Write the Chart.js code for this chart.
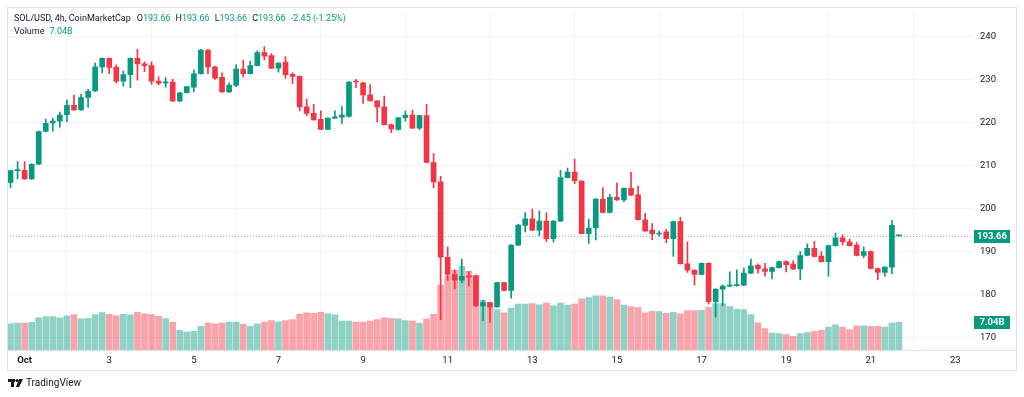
<!DOCTYPE html>
<html>
<head>
<meta charset="utf-8">
<script src="https://cdn.jsdelivr.net/npm/chart.js@4.4.1/dist/chart.umd.min.js"></script>
<style>
html, body { margin: 0; padding: 0; background: #fff; }
#wrap { width: 1024px; height: 397px; }
</style>
</head>
<body>
<div id="wrap"><canvas id="chart" width="1024" height="397"></canvas></div>
<script>
// SOL/USD 4h candles, first one is Sep 30 16:00
const openP = [
  206.1,208.8,208.9,206.9,210.3,217.9,219.9,220.3,221.8,224.0,
  222.9,225.8,227.3,232.9,234.9,232.8,229.6,231.1,234.9,233.6,
  233.2,229.6,229.2,229.4,225.0,226.9,228.2,231.3,236.8,232.9,
  230.5,227.1,228.6,232.4,231.3,233.2,236.2,235.5,232.6,234.0,
  231.2,230.7,223.6,222.1,220.7,218.4,221.0,221.2,221.4,229.5,
  229.2,226.4,225.0,223.6,219.5,218.4,221.1,221.7,218.7,221.6,
  210.7,206.2,188.7,184.7,183.4,184.4,184.4,177.4,178.2,177.2,
  182.8,181.0,191.5,196.1,197.6,195.0,197.1,193.0,197.1,207.2,
  208.5,206.4,194.2,195.5,202.2,199.1,202.6,202.0,204.7,203.2,
  197.4,195.0,194.1,194.6,193.0,197.0,187.2,185.7,184.7,187.3,
  178.4,181.3,182.0,182.1,182.2,185.0,186.8,186.0,185.4,186.3,
  187.7,187.1,186.0,189.1,190.8,189.0,187.7,191.4,193.2,192.3,
  191.5,189.1,190.0,186.1,185.2,186.4,193.66
];
const highP = [
  208.9,210.9,210.9,210.4,218.0,220.8,221.0,222.4,225.2,226.3,
  226.5,227.7,233.8,235.0,235.0,233.4,231.9,235.0,237.0,234.1,
  234.1,230.6,230.4,230.0,227.0,228.4,232.2,237.0,236.9,233.0,
  231.5,229.2,233.4,234.5,234.3,236.6,237.6,236.0,233.9,235.3,
  231.5,230.8,225.4,224.2,222.7,221.1,222.7,223.7,229.5,230.0,
  229.3,228.8,225.1,226.1,219.6,221.2,222.7,222.9,221.7,224.2,
  212.8,207.5,191.1,185.8,188.3,185.4,184.6,178.7,178.3,182.9,
  182.9,191.6,196.4,199.1,199.9,199.5,199.0,197.2,208.9,209.4,
  211.5,206.5,197.5,202.3,204.8,203.3,206.0,204.8,208.4,205.2,
  198.9,196.5,194.8,195.2,197.1,198.0,192.3,185.8,187.4,187.4,
  181.4,182.3,185.3,185.8,186.2,188.3,187.2,187.3,186.4,187.8,
  187.9,187.9,190.0,191.8,192.4,190.0,191.5,194.3,193.9,192.9,
  192.1,191.1,190.2,186.2,186.5,197.2,193.66
];
const lowP = [
  204.8,206.9,206.8,206.8,210.2,217.8,218.0,218.9,220.1,222.8,
  222.8,223.5,227.2,231.5,231.3,229.2,228.4,228.1,229.8,231.8,
  228.8,228.7,228.2,224.8,224.8,226.8,227.1,231.2,231.3,230.0,
  227.0,227.0,228.3,230.5,231.2,233.1,234.5,232.5,231.7,230.3,
  229.0,222.7,221.6,220.5,218.3,218.3,220.9,219.8,221.2,228.1,
  224.4,225.0,220.1,219.4,217.6,218.2,220.3,218.6,218.3,210.6,
  204.8,174.2,183.3,181.3,182.8,182.0,177.3,174.0,173.6,177.1,
  180.9,179.2,191.4,194.6,194.9,193.7,192.3,192.2,197.0,207.1,
  205.8,194.1,191.9,192.7,199.0,199.0,201.9,201.6,203.0,197.3,
  194.7,192.8,193.6,192.1,188.9,187.1,185.2,182.2,184.6,177.8,
  174.8,177.4,181.9,182.0,182.1,184.9,185.0,184.3,183.7,186.2,
  185.3,185.8,183.5,189.0,188.8,187.6,184.3,191.3,191.5,191.3,
  189.0,188.6,186.0,183.5,184.3,184.9,193.66
];
const closeP = [
  208.8,208.9,206.9,210.3,217.9,219.8,220.3,221.7,224.0,222.9,
  225.8,227.2,232.9,234.9,232.8,229.6,231.1,234.9,233.6,233.2,
  229.6,229.1,229.3,225.0,226.9,228.3,231.3,236.8,232.9,230.3,
  227.1,228.7,232.4,231.3,233.2,236.2,235.4,232.6,233.8,231.1,
  230.7,223.6,222.1,220.6,218.4,221.0,221.3,221.7,229.4,229.4,
  226.4,225.0,223.6,219.5,218.5,221.1,221.7,218.7,221.6,210.7,
  206.2,188.7,184.7,183.4,184.3,184.1,177.4,178.2,177.2,182.8,
  181.0,191.5,196.2,197.6,195.0,197.1,193.0,197.1,207.2,208.5,
  206.5,194.2,195.5,202.2,199.1,202.6,202.0,204.7,203.1,197.4,
  194.8,194.1,194.3,193.0,197.0,187.2,185.7,184.7,187.3,178.4,
  181.3,182.0,182.1,182.2,185.0,186.7,186.0,185.4,186.3,187.7,
  187.0,186.0,189.1,190.8,188.9,187.7,191.4,193.2,192.3,191.4,
  189.1,190.0,186.1,185.2,186.4,196.11,193.66
];
// volume in billions
const volumeB = [
  6.64,6.79,6.79,6.97,8.13,8.46,8.46,8.13,8.63,8.96,
  7.89,8.03,8.96,9.45,9.03,8.71,9.03,8.88,9.53,9.13,
  8.96,8.53,7.96,7.04,4.98,4.55,4.73,5.97,6.79,6.64,
  6.79,7.04,7.04,6.47,5.97,6.64,7.04,7.46,7.14,7.46,
  7.71,9.08,9.38,9.28,9.53,9.13,8.88,7.29,7.29,7.04,
  7.04,7.29,7.71,8.13,8.03,7.89,7.46,7.29,6.79,7.89,
  9.03,16.42,18.73,20.15,21.14,19.9,18.91,12.61,11.87,10.2,
  9.38,10.62,11.62,11.62,11.77,11.44,11.87,11.19,11.87,11.37,
  11.62,12.94,13.26,13.68,13.68,13.36,12.76,11.37,10.95,10.77,
  9.38,9.78,9.7,9.28,9.53,9.13,9.95,9.95,10.02,10.77,
  11.77,11.77,10.95,10.37,10.2,8.96,6.89,5.4,4.3,4.15,
  3.91,3.48,4.15,4.4,4.73,4.98,5.8,6.39,5.8,5.15,
  6.14,6.14,5.97,5.97,5.8,6.79,7.04
];

// time axis: hours from Oct 1 00:00
const firstHour = -8;
const stepHours = 4;
const tickHours = [0, 48, 96, 144, 192, 240, 288, 336, 384, 432, 480, 528];
const tickLabels = ['Oct', '3', '5', '7', '9', '11', '13', '15', '17', '19', '21', '23'];
const priceTicks = [170, 180, 190, 200, 210, 220, 230, 240];

const UP = '#089981';
const DOWN = '#f23645';
const UP_VOL = 'rgba(8,153,129,0.45)';
const DOWN_VOL = 'rgba(242,54,69,0.45)';
const TEXT = '#131722';
const FONT = 'Roboto, "Liberation Sans", sans-serif';

const hours = openP.map((_, i) => firstHour + i * stepHours);
const isUp = openP.map((o, i) => closeP[i] >= o);

const last = openP.length - 1;
const lastClose = closeP[last];
const lastVol = volumeB[last];

// header, frame, price labels
const overlay = {
  id: 'overlay',
  beforeDraw(chart) {
    const ctx = chart.ctx;
    ctx.save();
    ctx.fillStyle = '#fff';
    ctx.fillRect(0, 0, chart.width, chart.height);
    ctx.restore();
  },
  beforeDatasetsDraw(chart) {
    const { ctx, chartArea, scales } = chart;
    const py = Math.round(scales.y.getPixelForValue(lastClose)) + 0.5;
    ctx.save();
    ctx.strokeStyle = 'rgba(8,153,129,0.55)';
    ctx.lineWidth = 1;
    ctx.setLineDash([1, 2]);
    ctx.beginPath();
    ctx.moveTo(chartArea.left, py);
    ctx.lineTo(chartArea.right, py);
    ctx.stroke();
    ctx.restore();
  },
  afterDraw(chart) {
    const { ctx, chartArea, scales } = chart;
    ctx.save();

    // frame
    ctx.strokeStyle = '#e0e3eb';
    ctx.lineWidth = 1;
    ctx.strokeRect(7.5, 7.5, 1009, 363);
    ctx.beginPath();
    ctx.moveTo(7, chartArea.bottom + 0.5);
    ctx.lineTo(1017, chartArea.bottom + 0.5);
    ctx.stroke();

    // header
    ctx.font = '9px ' + FONT;
    ctx.textBaseline = 'middle';
    ctx.textAlign = 'left';
    let x = 14;
    const seg = (t, c, gap) => {
      ctx.fillStyle = c;
      ctx.fillText(t, x, 19);
      x += ctx.measureText(t).width + (gap || 0);
    };
    const prev = closeP[last - 1];
    const chg = lastClose - prev;
    seg('SOL/USD, 4h, CoinMarketCap', TEXT, 6);
    seg('O', TEXT); seg(openP[last].toFixed(2), UP, 5);
    seg('H', TEXT); seg(highP[last].toFixed(2), UP, 5);
    seg('L', TEXT); seg(lowP[last].toFixed(2), UP, 5);
    seg('C', TEXT); seg(lastClose.toFixed(2), UP, 5);
    seg(chg.toFixed(2) + ' (' + (chg / prev * 100).toFixed(2) + '%)', UP);
    ctx.fillStyle = TEXT;
    ctx.fillText('Volume', 14, 32);
    ctx.fillStyle = UP;
    ctx.fillText(lastVol.toFixed(2) + 'B', 14 + ctx.measureText('Volume').width + 5, 32);

    // price scale labels
    const tag = (txt, yc) => {
      ctx.fillStyle = UP;
      ctx.fillRect(974, Math.round(yc) - 6, 36, 13);
      ctx.fillStyle = '#fff';
      ctx.font = 'bold 9.5px ' + FONT;
      ctx.textAlign = 'center';
      ctx.fillText(txt, 992, Math.round(yc) + 0.5);
    };
    tag(lastClose.toFixed(2), scales.y.getPixelForValue(lastClose));
    tag(lastVol.toFixed(2) + 'B', scales.yv.getPixelForValue(lastVol));

    // TradingView mark
    ctx.fillStyle = TEXT;
    ctx.fillRect(8, 379, 7, 3);
    ctx.fillRect(11, 379, 3, 8);
    ctx.beginPath();
    ctx.arc(17, 380.5, 1.6, 0, Math.PI * 2);
    ctx.fill();
    ctx.beginPath();
    ctx.moveTo(19, 379); ctx.lineTo(23, 379); ctx.lineTo(19, 387); ctx.lineTo(16, 387);
    ctx.closePath();
    ctx.fill();
    ctx.font = '10px ' + FONT;
    ctx.textAlign = 'left';
    ctx.fillText('TradingView', 26, 383.5);

    ctx.restore();
  }
};

new Chart(document.getElementById('chart'), {
  type: 'bar',
  data: {
    datasets: [
      {
        label: 'body',
        data: hours.map((h, i) => ({ x: h, y: [openP[i], closeP[i]] })),
        backgroundColor: isUp.map(u => u ? UP : DOWN),
        barThickness: 5,
        minBarLength: 1,
        grouped: false,
        yAxisID: 'y',
        order: 1
      },
      {
        label: 'wick',
        data: hours.map((h, i) => ({ x: h, y: [lowP[i], highP[i]] })),
        backgroundColor: isUp.map(u => u ? UP : DOWN),
        barThickness: 1,
        grouped: false,
        yAxisID: 'y',
        order: 2
      },
      {
        label: 'volume',
        data: hours.map((h, i) => ({ x: h, y: volumeB[i] })),
        backgroundColor: isUp.map(u => u ? UP_VOL : DOWN_VOL),
        barThickness: 6,
        grouped: false,
        yAxisID: 'yv',
        order: 3
      }
    ]
  },
  options: {
    responsive: false,
    devicePixelRatio: 1,
    animation: false,
    events: [],
    layout: { padding: { left: 7, top: 7, right: 8, bottom: 27 } },
    plugins: {
      legend: { display: false },
      tooltip: { enabled: false }
    },
    scales: {
      x: {
        type: 'linear',
        min: -10,
        max: 538,
        offset: false,
        afterBuildTicks: s => { s.ticks = tickHours.map(v => ({ value: v })); },
        afterFit: s => { s.height = 20; },
        grid: { color: '#f0f3fa', drawTicks: false },
        border: { display: false },
        ticks: {
          padding: 5,
          maxRotation: 0,
          autoSkip: false,
          color: TEXT,
          font: c => ({ family: FONT, size: 9.5, weight: c.index === 0 ? 'bold' : 'normal' }),
          callback: (v, i) => tickLabels[i]
        }
      },
      y: {
        position: 'right',
        min: 167.17,
        max: 245.48,
        afterBuildTicks: s => { s.ticks = priceTicks.map(v => ({ value: v })); },
        afterFit: s => { s.width = 43; },
        grid: { color: '#f0f3fa', drawTicks: false },
        border: { display: false },
        ticks: {
          padding: 7,
          color: TEXT,
          font: { family: FONT, size: 9.5 }
        }
      },
      yv: {
        display: false,
        min: 0,
        max: 85.3
      }
    }
  },
  plugins: [overlay]
});
</script>
</body>
</html>
